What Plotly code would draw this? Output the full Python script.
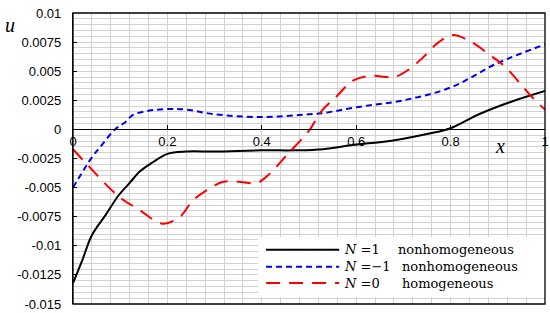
import plotly.graph_objects as go

# N = 1, nonhomogeneous
x_n1 = [0, 0.02, 0.04, 0.07, 0.096, 0.12, 0.142, 0.17, 0.2, 0.24, 0.3, 0.4,
        0.47, 0.53, 0.6, 0.65, 0.7, 0.75, 0.8, 0.86, 0.93, 1.0]
u_n1 = [-0.0132, -0.0112, -0.0091, -0.0073, -0.0057, -0.0046, -0.0036, -0.0028,
        -0.0021, -0.0019, -0.0019, -0.0018, -0.0018, -0.0017, -0.0013, -0.0011,
        -0.0008, -0.0004, 0.0001, 0.0013, 0.0024, 0.0033]

# N = -1, nonhomogeneous
x_nm1 = [0, 0.04, 0.06, 0.089, 0.11, 0.127, 0.16, 0.2, 0.24, 0.3, 0.4, 0.5,
         0.53, 0.6, 0.7, 0.8, 0.9, 1.0]
u_nm1 = [-0.005, -0.0024, -0.0014, 0.0, 0.0006, 0.00124, 0.0016, 0.00175,
         0.0017, 0.0013, 0.00106, 0.0013, 0.0014, 0.0019, 0.0025, 0.0036,
         0.0057, 0.0073]

# N = 0, homogeneous
x_n0 = [0, 0.032, 0.095, 0.14, 0.19, 0.227, 0.254, 0.297, 0.318, 0.35, 0.39,
        0.417, 0.453, 0.502, 0.523, 0.56, 0.593, 0.63, 0.665, 0.682, 0.71,
        0.742, 0.775, 0.805, 0.84, 0.883, 0.915, 0.972, 1.0]
u_n0 = [-0.0017, -0.0031, -0.0057, -0.0069, -0.0081, -0.0075, -0.0061, -0.0049,
        -0.0045, -0.0045, -0.0046, -0.0038, -0.0022, 0.0, 0.0014, 0.0029,
        0.0042, 0.0046, 0.0045, 0.0045, 0.0051, 0.0062, 0.0075, 0.0081,
        0.0076, 0.0064, 0.0054, 0.0028, 0.0017]

x_ticks = [0, 0.2, 0.4, 0.6, 0.8, 1]
x_ticktext = ["0", "0.2", "0.4", "0.6", "0.8", "1"]
y_ticks = [0.01, 0.0075, 0.005, 0.0025, 0, -0.0025, -0.005, -0.0075, -0.01, -0.0125, -0.015]
y_ticktext = ["0.01", "0.0075", "0.005", "0.0025", "0", "-0.0025", "-0.005",
              "-0.0075", "-0.01", "-0.0125", "-0.015"]

# legend entries (drawn by hand so the line samples can be long)
leg_n = ["<i>N</i> =1", "<i>N</i> =\u22121", "<i>N</i> =0"]
leg_kind = ["nonhomogeneous", "nonhomogeneous", "homogeneous"]
leg_color = ["black", "#0000ee", "#ff0000"]
leg_dash = ["solid", "6px,4px", "14px,9px"]

GRID = "#d2d2d2"
SERIF = "DejaVu Serif"

fig = go.Figure()
series = [(x_n1, u_n1), (x_nm1, u_nm1), (x_n0, u_n0)]
for (xs, ys), col, dash, kind, n in zip(series, leg_color, leg_dash, leg_kind, leg_n):
    fig.add_trace(go.Scatter(
        x=xs, y=ys, mode="lines", line_shape="spline",
        name=f"{n} {kind}",
        line=dict(color=col, width=2, dash=dash),
        showlegend=False))

# legend box
fig.add_shape(type="rect", xref="paper", yref="paper", x0=0.392, y0=0.024, x1=1, y1=0.23,
              fillcolor="white", line=dict(width=0), layer="above")
row_y = [0.186, 0.128, 0.072]
kind_x = [0.685, 0.693, 0.693]
for i in range(3):
    fig.add_shape(type="line", xref="paper", yref="paper", x0=0.409, x1=0.564,
                  y0=row_y[i], y1=row_y[i],
                  line=dict(color=leg_color[i], width=2, dash=leg_dash[i]), layer="above")
    fig.add_annotation(x=0.570, y=row_y[i], xref="paper", yref="paper", text=leg_n[i],
                       xanchor="left", yanchor="middle", showarrow=False,
                       font=dict(family=SERIF, size=13, color="black"))
    fig.add_annotation(x=kind_x[i], y=row_y[i], xref="paper", yref="paper", text=leg_kind[i],
                       xanchor="left", yanchor="middle", showarrow=False,
                       font=dict(family=SERIF, size=13, color="black"))

fig.add_annotation(x=-0.133, y=0.959, xref="paper", yref="paper", text="<i>u</i>",
                   xanchor="center", yanchor="middle",
                   showarrow=False, font=dict(family="Liberation Serif", size=20, color="black"))
fig.add_annotation(x=0.905, y=-0.0014, xref="x", yref="y", text="<i>x</i>",
                   xanchor="center", yanchor="middle",
                   showarrow=False, font=dict(family="Liberation Serif", size=20, color="black"))

fig.add_shape(type="rect", xref="paper", yref="paper", x0=0, y0=0, x1=1, y1=1,
              line=dict(color="black", width=1.3), layer="above")

fig.update_layout(
    width=550, height=313,
    margin=dict(l=73, r=5, t=13, b=9),
    paper_bgcolor="white",
    plot_bgcolor="white",
    font=dict(family="Liberation Sans", size=12, color="black"),
    showlegend=False,
    xaxis=dict(
        range=[0, 1], anchor="free", position=0.6, automargin=False,
        tickvals=x_ticks, ticktext=x_ticktext, ticklabeloverflow="allow",
        ticks="inside", ticklen=4, tickcolor="black",
        showline=True, linecolor="black", linewidth=1.3,
        showgrid=True, gridcolor=GRID, gridwidth=1,
        minor=dict(dtick=0.04, tick0=0, showgrid=True, gridcolor=GRID, gridwidth=1),
        zeroline=False,
        tickfont=dict(size=13)
    ),
    yaxis=dict(
        range=[-0.015, 0.01], automargin=False,
        tickvals=y_ticks, ticktext=y_ticktext, ticklabeloverflow="allow",
        ticks="inside", ticklen=4, tickcolor="black",
        showline=True, linecolor="black", linewidth=1.3,
        showgrid=True, gridcolor=GRID, gridwidth=1,
        minor=dict(dtick=0.0005, tick0=0, showgrid=True, gridcolor=GRID, gridwidth=1),
        zeroline=True, zerolinecolor="black", zerolinewidth=1.3,
        ticklabelstandoff=8,
        tickfont=dict(size=13)
    ),
)

# drop the page's default body margin so the figure sits in the corner
fig.write_html("out.html", config={"displayModeBar": False},
               post_script="document.body.style.margin='0';")
